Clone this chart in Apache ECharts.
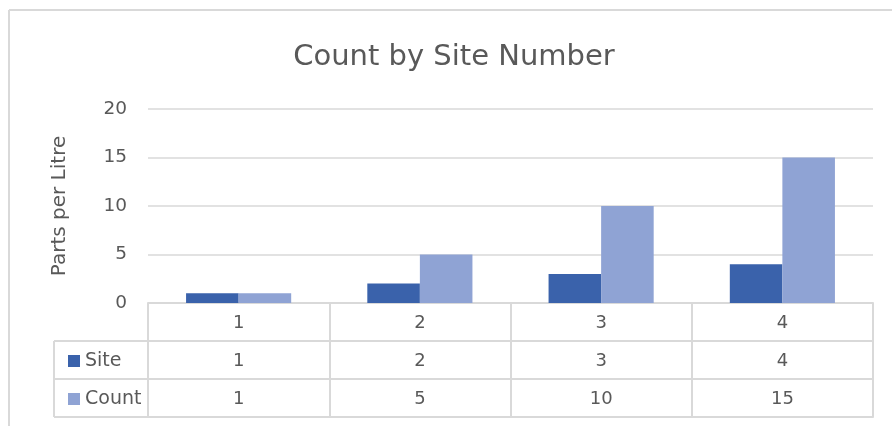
<!DOCTYPE html>
<html>
<head>
<meta charset="utf-8">
<script src="https://cdn.jsdelivr.net/npm/echarts@6/dist/echarts.min.js"></script>
<style>
html,body{margin:0;padding:0;background:#ffffff;}
#chart{width:892px;height:426px;}
</style>
</head>
<body>
<div id="chart"></div>
<script>
// ---- data ----
const categories = ['1', '2', '3', '4'];
const siteValues = [1, 2, 3, 4];
const countValues = [1, 5, 10, 15];
const seriesNames = ['Site', 'Count'];
const yMin = 0, yMax = 20, yStep = 5;
const titleText = 'Count by Site Number';
const yAxisName = 'Parts per Litre';

// ---- style ----
const FONT = 'DejaVu Sans';
const TXT = '#595959';
const GRID = '#d9d9d9';
const C_SITE = '#3a62ab';
const C_COUNT = '#8fa3d4';
const ROW = 38;

const chart = echarts.init(document.getElementById('chart'), null, {renderer: 'canvas'});

function tableAxis(data, offset, showTick) {
  return {
    type: 'category',
    data: data,
    position: 'bottom',
    offset: offset,
    boundaryGap: true,
    axisLine: {show: true, lineStyle: {color: GRID, width: 2}},
    axisTick: {show: showTick, length: ROW, inside: false, lineStyle: {color: GRID, width: 2}},
    axisLabel: {show: showTick, fontFamily: FONT, fontSize: 18, color: TXT, margin: 10, lineHeight: 20, interval: 0},
    splitLine: {show: false}
  };
}

const option = {
  backgroundColor: '#ffffff',
  animation: false,
  title: {
    text: titleText,
    left: 449,
    textAlign: 'center',
    top: 38,
    textStyle: {fontFamily: FONT, fontSize: 29, fontWeight: 'normal', color: TXT}
  },
  legend: {
    orient: 'vertical',
    left: 63,
    top: 346,
    itemWidth: 12,
    itemHeight: 12,
    itemGap: 18,
    icon: 'rect',
    data: seriesNames,
    textStyle: {fontFamily: FONT, fontSize: 19, color: TXT, lineHeight: 20}
  },
  grid: {left: 148, right: 19, top: 109, bottom: 123, containLabel: false},
  xAxis: [
    tableAxis(categories, 0, true),
    tableAxis(siteValues.map(String), ROW, true),
    tableAxis(countValues.map(String), ROW * 2, true),
    tableAxis(categories.map(() => ''), ROW * 3, false)
  ],
  yAxis: {
    type: 'value',
    min: yMin, max: yMax, interval: yStep,
    name: yAxisName,
    nameLocation: 'middle',
    nameGap: 78,
    nameRotate: 90,
    nameTextStyle: {fontFamily: FONT, fontSize: 20, color: TXT},
    axisLine: {show: false},
    axisTick: {show: false},
    axisLabel: {fontFamily: FONT, fontSize: 18.5, color: TXT, margin: 21},
    splitLine: {lineStyle: {color: GRID, width: 1.5}}
  },
  series: [
    {name: seriesNames[0], type: 'bar', xAxisIndex: 0, data: siteValues,
     itemStyle: {color: C_SITE}, barGap: '0%', barCategoryGap: '42%'},
    {name: seriesNames[1], type: 'bar', xAxisIndex: 0, data: countValues,
     itemStyle: {color: C_COUNT}, barGap: '0%', barCategoryGap: '42%'}
  ],
  graphic: [
    // chart frame (top / left edges)
    {type: 'line', shape: {x1: 9, y1: 10, x2: 892, y2: 10}, style: {stroke: GRID, lineWidth: 2}},
    {type: 'line', shape: {x1: 9, y1: 10, x2: 9, y2: 426}, style: {stroke: GRID, lineWidth: 2}},
    // data-table legend column box
    {type: 'line', shape: {x1: 54, y1: 341, x2: 148, y2: 341}, style: {stroke: GRID, lineWidth: 2}},
    {type: 'line', shape: {x1: 54, y1: 379, x2: 148, y2: 379}, style: {stroke: GRID, lineWidth: 2}},
    {type: 'line', shape: {x1: 54, y1: 417, x2: 148, y2: 417}, style: {stroke: GRID, lineWidth: 2}},
    {type: 'line', shape: {x1: 54, y1: 341, x2: 54, y2: 417}, style: {stroke: GRID, lineWidth: 2}}
  ]
};
chart.setOption(option);
</script>
</body>
</html>
